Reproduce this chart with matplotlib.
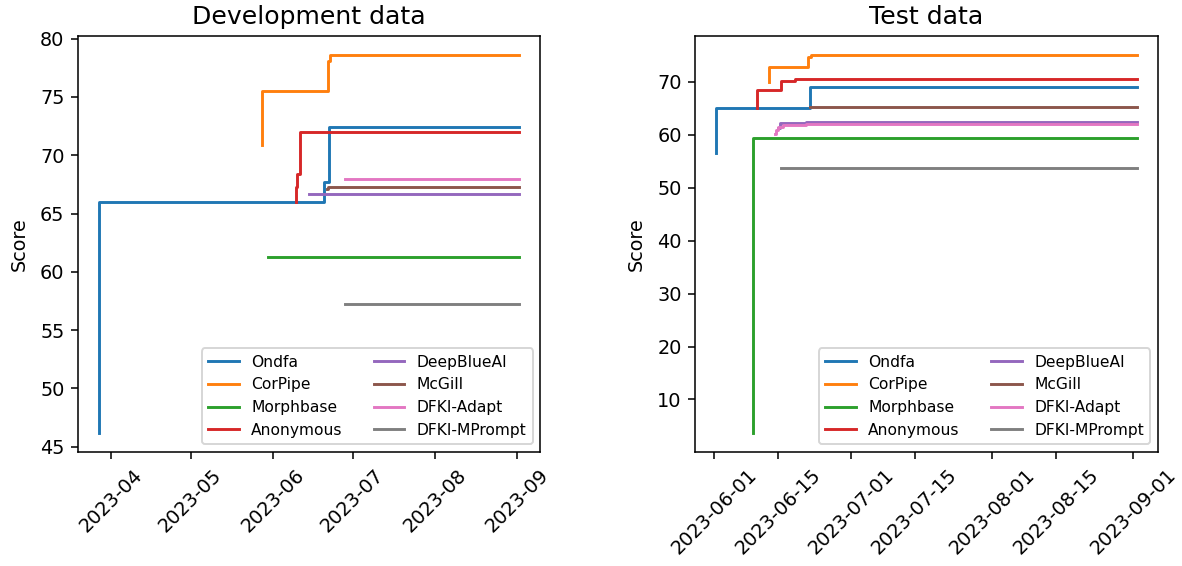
import matplotlib.pyplot as plt
import pandas as pd

# best score so far per team, as step curves over submission time
teams = ["Ondfa", "CorPipe", "Morphbase", "Anonymous",
         "DeepBlueAI", "McGill", "DFKI-Adapt", "DFKI-MPrompt"]
end = "2023-09-01 18:00"

dev_dates = [
    ["2023-03-27 14:00", "2023-03-27 15:00", "2023-03-27 16:00", "2023-06-20 07:00", "2023-06-22 02:00", end],
    ["2023-05-27 22:00", "2023-05-27 23:00", "2023-06-21 14:00", "2023-06-22 07:00", end],
    ["2023-05-30 02:00", end],
    ["2023-06-09 12:00", "2023-06-09 15:00", "2023-06-09 22:00", "2023-06-10 05:00", "2023-06-11 05:00", end],
    ["2023-06-14 16:00", end],
    ["2023-06-21 12:00", "2023-06-21 17:00", end],
    ["2023-06-28 05:00", end],
    ["2023-06-28 05:00", end],
]
dev_scores = [
    [46.2, 58.9, 66.0, 67.7, 72.4, 72.4],
    [70.9, 75.5, 78.1, 78.6, 78.6],
    [61.3, 61.3],
    [66.0, 67.3, 68.1, 68.4, 72.0, 72.0],
    [66.7, 66.7],
    [67.1, 67.3, 67.3],
    [68.0, 68.0],
    [57.2, 57.2],
]

test_dates = [
    ["2023-06-01 10:00", "2023-06-01 11:00", "2023-06-22 02:00", end],
    ["2023-06-13 00:00", "2023-06-13 01:00", "2023-06-21 14:00", "2023-06-22 07:00", end],
    ["2023-06-09 10:00", "2023-06-09 11:00", end],
    ["2023-06-10 09:00", "2023-06-10 10:00", "2023-06-15 14:00", "2023-06-18 19:00", end],
    ["2023-06-15 00:00", "2023-06-15 10:00", "2023-06-21 05:00", end],
    ["2023-06-22 02:00", end],
    ["2023-06-14 10:00", "2023-06-14 11:00", "2023-06-15 00:00", "2023-06-16 02:00", "2023-06-21 05:00", end],
    ["2023-06-15 14:00", end],
]
test_scores = [
    [56.6, 65.0, 69.1, 69.1],
    [69.9, 72.8, 74.7, 75.1, 75.1],
    [3.7, 59.4, 59.4],
    [65.0, 68.5, 70.2, 70.5, 70.5],
    [61.25, 62.2, 62.4, 62.4],
    [65.3, 65.3],
    [60.2, 60.9, 61.5, 61.9, 62.0, 62.0],
    [53.7, 53.7],
]

fig, (ax1, ax2) = plt.subplots(1, 2, figsize=(1182 / 139, 566 / 139), dpi=139)
plt.subplots_adjust(left=0.066, right=0.9794, bottom=0.202, top=0.9364, wspace=0.3346)

for ax, dates, scores, title in [(ax1, dev_dates, dev_scores, "Development data"),
                                 (ax2, test_dates, test_scores, "Test data")]:
    for team, d, s in zip(teams, dates, scores):
        ax.step(pd.to_datetime(d), s, where="post", label=team)
    ax.set_title(title, fontsize=13)
    ax.set_ylabel("Score", labelpad=6)
    ax.legend(loc="lower right", ncol=2, fontsize=8)
    ax.tick_params(axis="x", labelrotation=45)

fig.savefig("out.png", dpi=139)
